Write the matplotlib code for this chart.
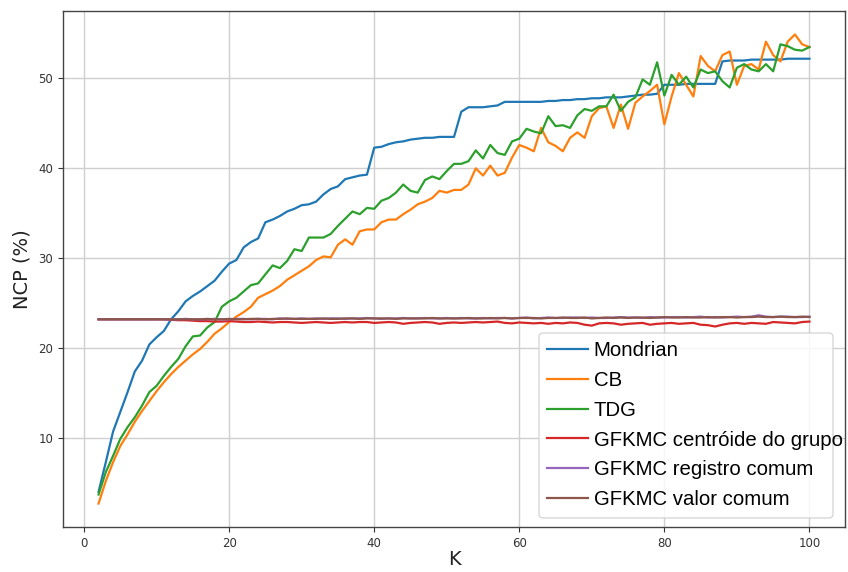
import numpy as np
import matplotlib
matplotlib.use("Agg")
import matplotlib.pyplot as plt
from matplotlib.patches import FancyBboxPatch

K = list(range(2, 101))

mondrian = [4.0, 7.3, 10.7, 12.9, 15.1, 17.4, 18.6, 20.4, 21.2, 21.9,
            23.2, 24.1, 25.2, 25.8, 26.3, 26.9, 27.5, 28.5, 29.4, 29.8,
            31.2, 31.8, 32.2, 34.0, 34.3, 34.7, 35.2, 35.5, 35.9, 36.0,
            36.3, 37.1, 37.7, 38.0, 38.8, 39.0, 39.2, 39.3, 42.3, 42.4,
            42.7, 42.9, 43.0, 43.2, 43.3, 43.4, 43.4, 43.5, 43.5, 43.5,
            46.3, 46.8, 46.8, 46.8, 46.9, 47.0, 47.4, 47.4, 47.4, 47.4,
            47.4, 47.4, 47.5, 47.5, 47.6, 47.6, 47.7, 47.7, 47.8, 47.8,
            47.9, 47.9, 47.9, 48.0, 48.1, 48.2, 48.2, 48.3, 49.3, 49.3,
            49.3, 49.4, 49.4, 49.4, 49.4, 49.4, 51.9, 52.0, 52.0, 52.0,
            52.1, 52.1, 52.1, 52.1, 52.1, 52.2, 52.2, 52.2, 52.2]

cb = [2.7, 5.2, 7.3, 9.1, 10.4, 11.8, 13.0, 14.1, 15.2, 16.2,
      17.1, 17.9, 18.6, 19.3, 19.9, 20.7, 21.6, 22.2, 22.9, 23.5,
      24.0, 24.6, 25.6, 26.0, 26.4, 26.9, 27.6, 28.1, 28.6, 29.1,
      29.8, 30.2, 30.1, 31.5, 32.1, 31.5, 33.0, 33.2, 33.2, 34.0,
      34.3, 34.3, 34.9, 35.4, 36.0, 36.3, 36.7, 37.5, 37.3, 37.6,
      37.6, 38.2, 40.0, 39.2, 40.3, 39.2, 39.5, 41.2, 42.6, 42.3,
      41.9, 44.5, 42.9, 42.5, 41.9, 43.4, 44.0, 43.4, 45.8, 46.7,
      46.9, 44.5, 47.1, 44.4, 47.3, 48.0, 48.6, 49.3, 44.9, 48.0,
      50.6, 49.3, 48.0, 52.5, 51.4, 50.8, 52.6, 53.0, 49.3, 51.4,
      51.6, 51.0, 54.1, 52.6, 51.9, 54.1, 54.9, 53.8, 53.5]

tdg = [3.7, 6.2, 8.0, 9.9, 11.2, 12.3, 13.6, 15.1, 15.8, 16.9,
       17.9, 18.8, 20.2, 21.3, 21.4, 22.3, 22.9, 24.6, 25.2, 25.6,
       26.3, 27.0, 27.2, 28.2, 29.2, 28.9, 29.7, 31.0, 30.8, 32.3,
       32.3, 32.3, 32.7, 33.6, 34.4, 35.2, 34.9, 35.6, 35.5, 36.4,
       36.7, 37.3, 38.2, 37.5, 37.3, 38.7, 39.1, 38.8, 39.7, 40.5,
       40.5, 40.8, 42.0, 41.1, 42.6, 41.7, 41.5, 43.0, 43.3, 44.4,
       44.1, 43.9, 45.8, 44.7, 44.8, 44.5, 45.9, 46.6, 46.4, 46.9,
       46.9, 48.2, 46.4, 47.4, 47.9, 49.9, 49.3, 51.8, 48.1, 50.4,
       49.3, 50.2, 49.0, 51.0, 50.6, 50.8, 49.7, 49.0, 51.2, 51.6,
       51.0, 50.8, 51.6, 50.8, 53.8, 53.6, 53.2, 53.1, 53.5]

gfkmc_centroide = [23.2, 23.2, 23.2, 23.2, 23.2, 23.2, 23.2, 23.2, 23.2, 23.2,
                   23.15, 23.1, 23.1, 23.05, 23.0, 23.0, 22.95, 22.95, 23.0, 22.95,
                   22.9, 22.9, 22.95, 22.9, 22.85, 22.9, 22.9, 22.85, 22.8, 22.85,
                   22.9, 22.85, 22.8, 22.85, 22.9, 22.85, 22.9, 22.9, 22.8, 22.85,
                   22.9, 22.85, 22.7, 22.8, 22.85, 22.9, 22.85, 22.7, 22.8, 22.85,
                   22.8, 22.85, 22.9, 22.85, 22.9, 22.95, 22.8, 22.75, 22.85, 22.8,
                   22.75, 22.8, 22.7, 22.8, 22.75, 22.85, 22.8, 22.6, 22.5, 22.75,
                   22.8, 22.75, 22.6, 22.7, 22.75, 22.8, 22.6, 22.7, 22.75, 22.8,
                   22.7, 22.75, 22.8, 22.6, 22.55, 22.4, 22.6, 22.75, 22.8, 22.7,
                   22.8, 22.75, 22.7, 22.9, 22.85, 22.8, 22.75, 22.9, 22.95]

gfkmc_registro = [23.2, 23.2, 23.2, 23.2, 23.2, 23.2, 23.2, 23.2, 23.2, 23.2,
                  23.2, 23.2, 23.25, 23.2, 23.2, 23.2, 23.25, 23.2, 23.2, 23.25,
                  23.25, 23.2, 23.25, 23.25, 23.2, 23.3, 23.25, 23.25, 23.3, 23.25,
                  23.3, 23.25, 23.3, 23.3, 23.25, 23.3, 23.3, 23.35, 23.3, 23.25,
                  23.3, 23.3, 23.35, 23.3, 23.3, 23.35, 23.3, 23.3, 23.35, 23.3,
                  23.35, 23.3, 23.3, 23.35, 23.3, 23.35, 23.35, 23.3, 23.35, 23.4,
                  23.3, 23.35, 23.4, 23.35, 23.35, 23.4, 23.4, 23.35, 23.4, 23.35,
                  23.35, 23.4, 23.45, 23.4, 23.4, 23.35, 23.45, 23.4, 23.4, 23.45,
                  23.45, 23.4, 23.45, 23.5, 23.4, 23.45, 23.4, 23.45, 23.5, 23.45,
                  23.5, 23.65, 23.5, 23.45, 23.5, 23.5, 23.45, 23.45, 23.5]

gfkmc_valor = [23.2, 23.2, 23.2, 23.2, 23.2, 23.2, 23.2, 23.2, 23.2, 23.2,
               23.2, 23.2, 23.2, 23.2, 23.2, 23.25, 23.2, 23.2, 23.25, 23.2,
               23.2, 23.25, 23.25, 23.2, 23.25, 23.25, 23.3, 23.25, 23.25, 23.25,
               23.25, 23.3, 23.25, 23.25, 23.3, 23.3, 23.25, 23.3, 23.3, 23.3,
               23.3, 23.25, 23.3, 23.3, 23.3, 23.3, 23.35, 23.3, 23.3, 23.3,
               23.3, 23.35, 23.3, 23.3, 23.35, 23.3, 23.35, 23.3, 23.35, 23.35,
               23.35, 23.3, 23.35, 23.35, 23.4, 23.35, 23.35, 23.4, 23.3, 23.35,
               23.4, 23.35, 23.4, 23.35, 23.4, 23.4, 23.35, 23.4, 23.45, 23.4,
               23.4, 23.45, 23.4, 23.4, 23.45, 23.4, 23.45, 23.45, 23.4, 23.45,
               23.45, 23.5, 23.45, 23.45, 23.5, 23.45, 23.45, 23.5, 23.45]

series = [
    ("Mondrian", mondrian, "#1f77b4"),
    ("CB", cb, "#ff7f0e"),
    ("TDG", tdg, "#2ca02c"),
    ("GFKMC centróide do grupo", gfkmc_centroide, "#d62728"),
    ("GFKMC registro comum", gfkmc_registro, "#9467bd"),
    ("GFKMC valor comum", gfkmc_valor, "#8c564b"),
]

W, H = 848, 572
fig = plt.figure(figsize=(W / 100, H / 100), dpi=100)
ax = fig.add_axes([63 / W, 1 - 527 / H, (845 - 63) / W, (527 - 11) / H])

for name, vals, col in series:
    ax.plot(K, vals, color=col, lw=1.6, label=name)

ax.grid(True, color="#cfcfcf", lw=1.0)
ax.set_axisbelow(True)
ax.tick_params(labelsize=8.5, colors="#333333", length=3.5)
for s in ax.spines.values():
    s.set_color("#444444")
    s.set_linewidth(1.0)

ax.set_xlabel("K", fontsize=14, color="#222222", labelpad=0)
ax.set_ylabel("NCP (%)", fontsize=14, color="#222222", labelpad=5)

leg = ax.legend(loc="upper left", bbox_to_anchor=(539 / W, 1 - 333 / H),
                bbox_transform=fig.transFigure, borderaxespad=0,
                frameon=False, prop={"family": "Liberation Sans", "size": 14.7},
                handlelength=2.0, handletextpad=0.28, labelspacing=0.53,
                borderpad=0.4)
leg.set_zorder(6)

frame = FancyBboxPatch((539 / W, 1 - 518 / H), (833 - 539) / W, (518 - 333) / H,
                       boxstyle="round,pad=0,rounding_size=0.006",
                       transform=fig.transFigure, facecolor="white", alpha=0.85,
                       edgecolor="#d0d0d0", lw=1.0, zorder=5, clip_on=False)
ax.add_patch(frame)

fig.savefig("out.png", dpi=100)
